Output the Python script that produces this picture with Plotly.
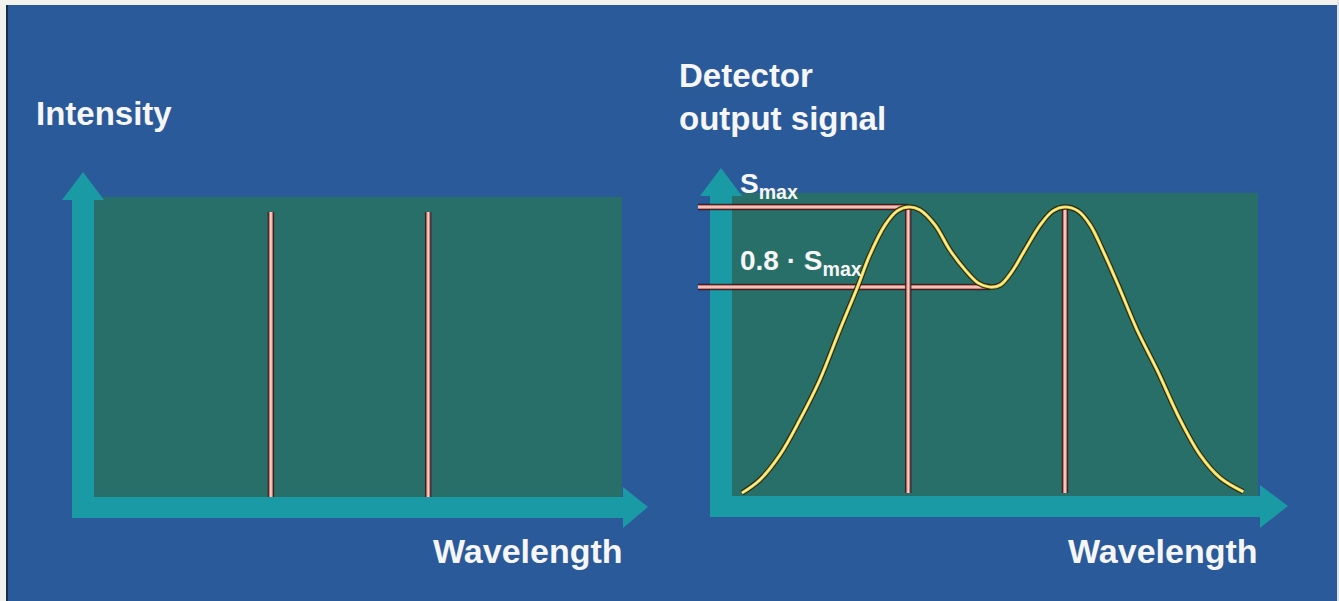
import plotly.graph_objects as go

# ---------------- data ----------------
# spectral lines (wavelength, arbitrary units) and their intensities
line_wavelengths = [33.5, 63.3]
line_intensities = [0.95, 0.95]

# detector output signal (in units of S_max) vs wavelength
curve_wavelength = [1.9, 5.3, 9.1, 12.9, 16.7, 20.5, 23.8, 26.2, 29.1, 31.4, 33.6,
                    35.7, 38.6, 41.4, 44.3, 46.8, 49.0, 51.0, 53.2, 55.7, 58.6,
                    61.0, 63.3, 65.8, 68.1, 70.9, 73.8, 77.0, 80.8, 85.2, 89.0,
                    92.8, 97.2]
curve_signal = [0.285, 0.318, 0.38, 0.468, 0.568, 0.693, 0.798, 0.88, 0.955, 0.99, 1.0,
                0.993, 0.955, 0.893, 0.843, 0.81, 0.80, 0.805, 0.838, 0.893, 0.955,
                0.99, 1.0, 0.99, 0.955, 0.88, 0.793, 0.693, 0.593, 0.468, 0.38,
                0.323, 0.288]
peak_wavelengths = [33.5, 63.3]
s_max = 1.0
s_dip = 0.8
dip_wavelength = 49.0
signal_baseline = 0.285

# text
left_ylabel = "Intensity"
right_ylabel = "Detector<br>output signal"
xlabel = "Wavelength"
smax_label = "S<sub>max</sub>"
dip_label = "0.8 \u00b7 S<sub>max</sub>"

# ---------------- layout helpers ----------------
W, H = 1339, 601


def px(x):
    return x / W


def py(y):
    return 1 - y / H


BLUE = "#2a5a9a"
GREEN = "#286f69"
TEAL = "#1a9aa5"
FONT = "Liberation Sans, Arial, sans-serif"

fig = go.Figure()


def styled_line(x, y, xa, ya, kind):
    if kind == "pink":
        layers = [(6.5, "rgba(45,30,30,0.85)"), (4, "#de7470"), (1.6, "#fbd9cf")]
    else:
        layers = [(5.5, "rgba(35,35,15,0.9)"), (3.2, "#f0d040"), (1.2, "#fff6b8")]
    for w, c in layers:
        fig.add_trace(go.Scatter(x=x, y=y, xaxis=xa, yaxis=ya, mode="lines",
                                 line=dict(color=c, width=w, shape="spline" if kind == "yellow" else "linear"),
                                 hoverinfo="skip", showlegend=False))


# left panel: spectral lines
for lam, inten in zip(line_wavelengths, line_intensities):
    styled_line([lam, lam], [0, inten], "x", "y", "pink")

# right panel ranges (needed for guide lines start)
x2_range = [(698 - 732) / 5.26, (1290 - 732) / 5.26]
y2_range = [1 - (497 - 207) / 400, 1 + (207 - 193) / 400]

# right panel guide lines
styled_line([x2_range[0], peak_wavelengths[0]], [s_max, s_max], "x2", "y2", "pink")
styled_line([x2_range[0], dip_wavelength], [s_dip, s_dip], "x2", "y2", "pink")
for lam in peak_wavelengths:
    styled_line([lam, lam], [signal_baseline, s_max], "x2", "y2", "pink")

# detector curve
styled_line(curve_wavelength, curve_signal, "x2", "y2", "yellow")

# ---------------- background shapes ----------------
shapes = []
# white scan borders
shapes.append(dict(type="rect", xref="paper", yref="paper", x0=0, x1=1, y0=py(5), y1=1,
                   fillcolor="#f4f2ee", line_width=0, layer="below"))
shapes.append(dict(type="rect", xref="paper", yref="paper", x0=0, x1=px(6), y0=0, y1=1,
                   fillcolor="#f4f2ee", line_width=0, layer="below"))
shapes.append(dict(type="rect", xref="paper", yref="paper", x0=px(6), x1=px(8), y0=0, y1=py(5),
                   fillcolor="#1c2c44", line_width=0, layer="below"))
shapes.append(dict(type="rect", xref="paper", yref="paper", x0=px(1337), x1=1, y0=0, y1=1,
                   fillcolor="#dfe3ea", line_width=0, layer="below"))
# green plot panels
shapes.append(dict(type="rect", xref="paper", yref="paper", x0=px(94), x1=px(622), y0=py(497), y1=py(197),
                   fillcolor=GREEN, line_width=0, layer="below"))
shapes.append(dict(type="rect", xref="paper", yref="paper", x0=px(732), x1=px(1258), y0=py(497), y1=py(193),
                   fillcolor=GREEN, line_width=0, layer="below"))


def poly(points):
    s = "M " + " L ".join(f"{px(x):.5f},{py(y):.5f}" for x, y in points) + " Z"
    return dict(type="path", xref="paper", yref="paper", path=s, fillcolor=TEAL,
                line_width=0, layer="below")


# left axes arrows
shapes.append(poly([(72, 518), (72, 200), (62, 200), (83, 172), (104, 200), (94, 200), (94, 518)]))
shapes.append(poly([(72, 497), (623, 497), (623, 487), (648, 507), (623, 528), (623, 518), (72, 518)]))
# right axes arrows
shapes.append(poly([(710, 517), (710, 196), (700, 196), (721, 168), (742, 196), (732, 196), (732, 517)]))
shapes.append(poly([(710, 496), (1260, 496), (1260, 485), (1288, 506), (1260, 528), (1260, 517), (710, 517)]))

# ---------------- annotations ----------------
txt = dict(family=FONT, color="#f6f6f6", size=33, weight="bold")
annotations = [
    dict(text=left_ylabel, x=px(34), y=py(113), xanchor="left", yanchor="middle"),
    dict(text=right_ylabel, x=px(677), y=py(55), xanchor="left", yanchor="top", align="left"),
    dict(text=xlabel, x=px(431), y=py(551), xanchor="left", yanchor="middle", font=dict(size=34)),
    dict(text=xlabel, x=px(1066), y=py(551), xanchor="left", yanchor="middle", font=dict(size=34)),
    dict(text=smax_label, x=px(738), y=py(166), xanchor="left", yanchor="top", font=dict(size=28)),
    dict(text=dip_label, x=px(738), y=py(243), xanchor="left", yanchor="top", font=dict(size=28)),
]
for a in annotations:
    f = dict(txt)
    f.update(a.get("font", {}))
    a["font"] = f
    a.update(xref="paper", yref="paper", showarrow=False)

axis_common = dict(visible=False, showgrid=False, zeroline=False, fixedrange=True)
fig.update_layout(
    width=W, height=H,
    margin=dict(l=0, r=0, t=0, b=0),
    paper_bgcolor=BLUE,
    plot_bgcolor="rgba(0,0,0,0)",
    showlegend=False,
    shapes=shapes,
    annotations=annotations,
    xaxis=dict(domain=[px(94), px(622)], range=[0, 100], anchor="y", **axis_common),
    yaxis=dict(domain=[py(497), py(197)], range=[0, 1], anchor="x", **axis_common),
    xaxis2=dict(domain=[px(698), px(1290)], range=x2_range, anchor="y2", **axis_common),
    yaxis2=dict(domain=[py(497), py(193)], range=y2_range, anchor="x2", **axis_common),
)

fig.write_html("out.html", config={"displayModeBar": False},
               post_script="document.body.style.margin='0';document.body.style.overflow='hidden';")
